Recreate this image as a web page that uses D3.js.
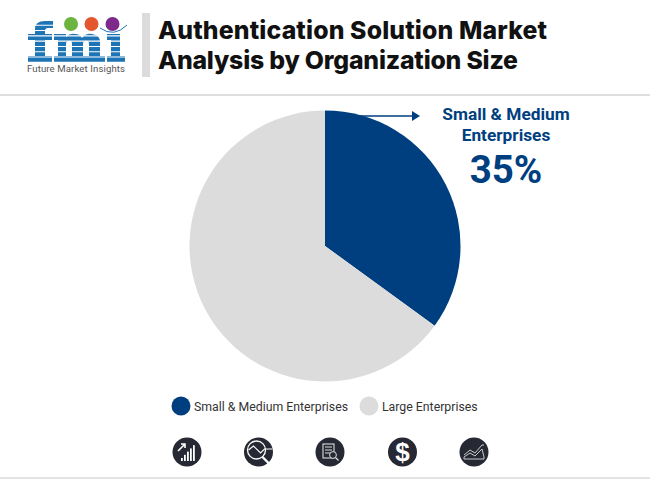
<!DOCTYPE html>
<html>
<head>
<meta charset="utf-8">
<script src="https://cdn.jsdelivr.net/npm/d3@7"></script>
<style>
  html, body { margin: 0; padding: 0; background: #fff; }
  svg { display: block; }
</style>
</head>
<body>
<div id="chart"></div>
<script>
const categories = ["Small & Medium Enterprises", "Large Enterprises"];
const shares = [35, 65];
const colors = ["#003f7f", "#dcdcdc"];
const titleLines = ["Authentication Solution Market", "Analysis by Organization Size"];
const calloutLines = ["Small & Medium", "Enterprises"];
const calloutValue = "35%";

const svg = d3.select("#chart").append("svg").attr("width", 650).attr("height", 480);

// header and footer rules
svg.append("rect").attr("x", 0).attr("y", 94).attr("width", 650).attr("height", 2).attr("fill", "#dedede");
svg.append("rect").attr("x", 0).attr("y", 477).attr("width", 650).attr("height", 2).attr("fill", "#e4e4e4");
svg.append("rect").attr("x", 142).attr("y", 13).attr("width", 8).attr("height", 64).attr("fill", "#dcdcdc");

// title
const titleWidths = [389, 360];
svg.append("g").selectAll("text").data(titleLines).enter().append("text")
  .attr("x", 158).attr("y", (d, i) => 38.5 + i * 30)
  .attr("font-family", "Inter").attr("font-weight", 800).attr("font-size", 24.8)
  .attr("textLength", (d, i) => titleWidths[i])
  .attr("fill", "#111").text(d => d);

// logo, letters cut into stripes
const logo = svg.append("g");
const clip = svg.append("defs").append("clipPath").attr("id", "logoStripes");
d3.range(0, 8).forEach(i => clip.append("rect").attr("x", 20).attr("y", 20.5 + i * 5.3).attr("width", 115).attr("height", 4.2));
const letters = logo.append("g").attr("clip-path", "url(#logoStripes)").attr("fill", "#1d75b5");
letters.append("path").attr("d", "M28,34 H35 V29 Q35,21 45,21 H53 V28 H48 Q45,28 45,31 V34 H52 V40 H45 V56 H52 V62 H28 V56 H35 V40 H28 Z");
letters.append("path").attr("d", "M54,34 H66 V37 Q70,33 75,34 Q80,34 82,38 Q86,33 92,34 Q100,35 100,42 V56 H105 V62 H85 V56 H89 V44 Q89,40 85,41 Q83,41 83,44 V56 H87 V62 H67 V56 H72 V44 Q72,40 69,41 Q66,41 66,44 V56 H71 V62 H54 V56 H58 V40 H54 Z");
letters.append("path").attr("d", "M107,34 H120 V56 H125 V62 H107 V56 H111 V40 H107 Z");
[[71, "#6cb33f"], [91.5, "#e4572e"], [112.5, "#7d2a8c"]].forEach(c => {
  logo.append("circle").attr("cx", c[0]).attr("cy", 24).attr("r", 7).attr("fill", c[1]);
});
logo.append("path").attr("d", "M100,28 Q114,38 127,25").attr("fill", "none").attr("stroke", "#1d75b5").attr("stroke-width", 1);
logo.append("text").attr("x", 27).attr("y", 72)
  .attr("font-family", "Roboto").attr("font-size", 9.6).attr("fill", "#555")
  .attr("textLength", 98).text("Future Market Insights");

// pie
const pie = d3.pie().sort(null).value(d => d)(shares);
const arc = d3.arc().innerRadius(0).outerRadius(135.5);
svg.append("g").attr("transform", "translate(325,246)")
  .selectAll("path").data(pie).enter().append("path")
  .attr("d", arc).attr("fill", (d, i) => colors[i]);

// callout arrow
svg.append("line").attr("x1", 352).attr("x2", 415).attr("y1", 116).attr("y2", 116)
  .attr("stroke", colors[0]).attr("stroke-width", 1.5);
svg.append("path").attr("d", "M412,111 L420,116 L412,121 Z").attr("fill", colors[0]);

// callout text
svg.append("g").selectAll("text").data(calloutLines).enter().append("text")
  .attr("x", 506).attr("y", (d, i) => 120 + i * 21).attr("text-anchor", "middle")
  .attr("font-family", "Roboto").attr("font-weight", 700).attr("font-size", 17.3)
  .attr("fill", colors[0]).text(d => d);
svg.append("text").attr("x", 506).attr("y", 182.5).attr("text-anchor", "middle")
  .attr("font-family", "Roboto").attr("font-weight", 700).attr("font-size", 38.5)
  .attr("fill", colors[0]).text(calloutValue);

// legend
const legendX = [181, 369], legendLabelX = [194, 382];
const legend = svg.append("g").selectAll("g").data(categories).enter().append("g");
legend.append("circle").attr("cx", (d, i) => legendX[i]).attr("cy", 406).attr("r", 9.5)
  .attr("fill", (d, i) => colors[i]);
legend.append("text").attr("x", (d, i) => legendLabelX[i]).attr("y", 411)
  .attr("font-family", "Roboto").attr("font-size", 12.3).attr("fill", "#333").text(d => d);

// footer icons
const iconPos = [187, 258.5, 330, 402.5, 474];
const ink = "#262833";
const icons = svg.append("g").selectAll("g").data(iconPos).enter().append("g")
  .attr("transform", d => "translate(" + d + ",452)");
icons.append("circle").attr("r", 14.5).attr("fill", ink);

// 0: rising bars with arrow
const i0 = d3.select(icons.nodes()[0]);
[-6, -3, 0, 3, 6].forEach((x, i) => {
  const h = 3 + i * 3.2;
  i0.append("rect").attr("x", x).attr("y", 9 - h).attr("width", 1.8).attr("height", h).attr("fill", "#fff");
});
i0.append("path").attr("d", "M-9,-1 L-2,-8 M-6,-8 L-2,-8 L-2,-4").attr("fill", "none").attr("stroke", "#fff").attr("stroke-width", 1.6);

// 1: magnifier over trend line
const i1 = d3.select(icons.nodes()[1]);
i1.append("circle").attr("cx", -2).attr("cy", -2).attr("r", 9).attr("fill", "none").attr("stroke", "#fff").attr("stroke-width", 1.3);
i1.append("path").attr("d", "M-10,-2 L-5,-6 L2,1 L6,-3 L14,-3").attr("fill", "none").attr("stroke", "#fff").attr("stroke-width", 1.1);
i1.append("path").attr("d", "M4,5 L12,13").attr("stroke", "#fff").attr("stroke-width", 2.4);

// 2: document with magnifier
const i2 = d3.select(icons.nodes()[2]);
i2.append("rect").attr("x", -7).attr("y", -8).attr("width", 11).attr("height", 14).attr("fill", "none").attr("stroke", "#ddd").attr("stroke-width", 1.1);
[-5, -2, 1].forEach(y => i2.append("line").attr("x1", -5).attr("x2", 2).attr("y1", y).attr("y2", y).attr("stroke", "#ddd").attr("stroke-width", 1));
i2.append("circle").attr("cx", 3).attr("cy", 3).attr("r", 3.4).attr("fill", ink).attr("stroke", "#ddd").attr("stroke-width", 1);
i2.append("line").attr("x1", 5.5).attr("x2", 8.5).attr("y1", 5.5).attr("y2", 8.5).attr("stroke", "#ddd").attr("stroke-width", 1.2);

// 3: dollar sign
d3.select(icons.nodes()[3]).append("text").attr("y", 9).attr("text-anchor", "middle")
  .attr("font-family", "Liberation Sans").attr("font-weight", 700).attr("font-size", 26)
  .attr("fill", "#fff").text("$");

// 4: area trend
const i4 = d3.select(icons.nodes()[4]);
i4.append("path").attr("d", "M-10,3 L-4,-2 L1,1 L8,-7 L10,-7").attr("fill", "none").attr("stroke", "#ccc").attr("stroke-width", 1);
i4.append("path").attr("d", "M-10,7 L-10,5 L-4,1 L1,4 L8,-3 L10,5 L10,7 Z").attr("fill", "none").attr("stroke", "#ccc").attr("stroke-width", 1);
</script>
</body>
</html>
